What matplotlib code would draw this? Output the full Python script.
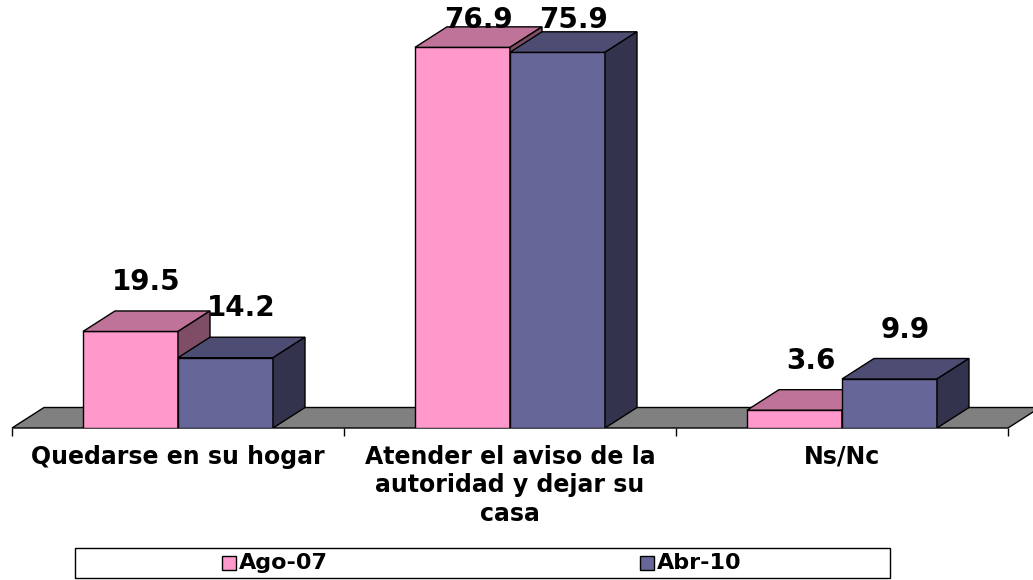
import matplotlib.pyplot as plt
from matplotlib.patches import Polygon, Rectangle

categories = ['Quedarse en su hogar',
              'Atender el aviso de la\nautoridad y dejar su\ncasa',
              'Ns/Nc']
series_names = ['Ago-07', 'Abr-10']
ago07 = [19.5, 76.9, 3.6]
abr10 = [14.2, 75.9, 9.9]

front_colors = ['#FF99CC', '#666699']
top_colors = ['#C07399', '#4D4D73']
side_colors = ['#804D66', '#33334D']

plt.rcParams['font.family'] = ['DejaVu Sans']
plt.rcParams['font.weight'] = 'bold'

W, H = 1033, 580
fig = plt.figure(figsize=(W / 100, H / 100), dpi=100)
ax = fig.add_axes([12 / W, (H - 428) / H, 996 / W, 428 / H])
ymax = 428 / 4.95
ax.set_xlim(-0.5, 2.5)
ax.set_ylim(0, ymax)

bw = 95 / 332          # bar width in category units
dx = 32 / 332          # depth offset, x
dy = 20.5 / 4.95       # depth offset, y

# floor
floor = Polygon([(-0.5, 0), (2.5, 0), (2.5 + dx, dy), (-0.5 + dx, dy)],
                closed=True, facecolor='#808080', edgecolor='black',
                lw=1, zorder=1, clip_on=False)
ax.add_patch(floor)

for s, vals in enumerate([ago07, abr10]):
    z = 2 + s * 2
    xs = [i - bw / 2 + s * bw for i in range(len(vals))]
    ax.bar(xs, vals, width=bw, color=front_colors[s], edgecolor='black',
           lw=1, zorder=z)
    for xc, v in zip(xs, vals):
        x0, x1 = xc - bw / 2, xc + bw / 2
        top = Polygon([(x0, v), (x0 + dx, v + dy), (x1 + dx, v + dy), (x1, v)],
                      closed=True, facecolor=top_colors[s], edgecolor='black',
                      lw=1, zorder=z)
        side = Polygon([(x1, 0), (x1, v), (x1 + dx, v + dy), (x1 + dx, dy)],
                       closed=True, facecolor=side_colors[s], edgecolor='black',
                       lw=1, zorder=z)
        ax.add_patch(top)
        ax.add_patch(side)
        ax.text(xc + dx / 2, min(v + dy + 3, 79.5), f'{v:.1f}', ha='center',
                va='bottom', fontsize=20, fontweight='heavy', zorder=10)

for sp in ax.spines.values():
    sp.set_visible(False)
ax.set_yticks([])
ax.set_xticks([-0.5, 0.5, 1.5, 2.5])
ax.set_xticklabels([])
ax.tick_params(axis='x', which='major', length=6, width=1, direction='out')
ax.set_xticks(range(len(categories)), categories, minor=True)
ax.tick_params(axis='x', which='minor', length=0, pad=12, labelsize=17)
for lbl in ax.get_xticklabels(minor=True):
    lbl.set_linespacing(1.25)
    lbl.set_fontweight('bold')

# legend box
fig.patches.append(Rectangle((75 / W, 2 / H), 815 / W, 30 / H, transform=fig.transFigure,
                             facecolor='white', edgecolor='black', lw=1))
for name, col, xs in zip(series_names, front_colors, [222, 640]):
    fig.patches.append(Rectangle((xs / W, (H - 570) / H), 14 / W, 14 / H,
                                 transform=fig.transFigure, facecolor=col,
                                 edgecolor='black', lw=1))
    fig.text((xs + 17) / W, (H - 563) / H, name, ha='left', va='center',
             fontsize=16, fontweight='bold')

fig.savefig('out.png', dpi=100)
